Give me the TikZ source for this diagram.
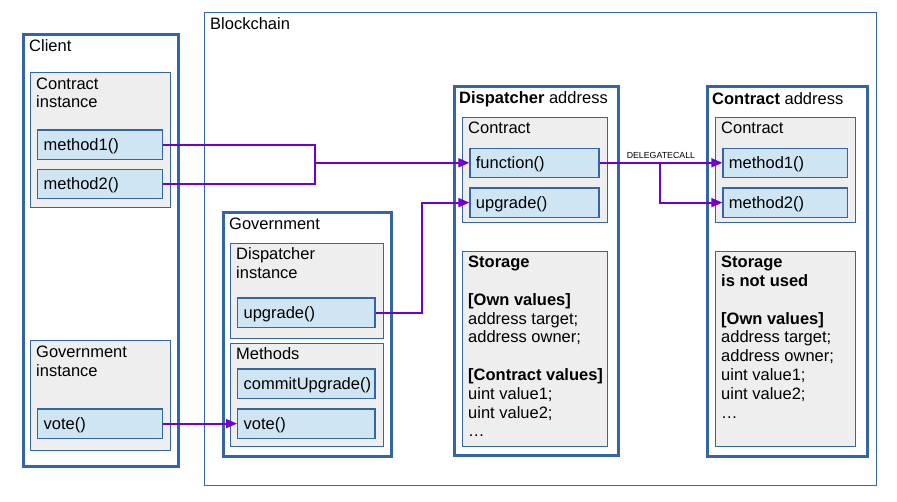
\documentclass[tikz,border=0pt]{standalone}
\usepackage{fontspec}
\setmainfont{Liberation Sans}
\usetikzlibrary{arrows.meta}
\definecolor{frame}{HTML}{3465A4}
\definecolor{panel}{HTML}{EEEEEE}
\definecolor{slot}{HTML}{CFE5F3}
\definecolor{wire}{HTML}{7000D0}

% a container drawn as a named node from its corners
\newcommand\boxnode[6]{\node[#2, anchor=north west, inner sep=0pt,
  minimum width={#5-#3}, minimum height={#6-#4}] (#1) at (#3,#4) {};}
% a method slot with left-aligned, vertically centred text
\newcommand\slotnode[7]{\node[slotbox, minimum width={#5-#3}, minimum height={#6-#4},
  text width={#7}] (#1) at (#3,#4) {#2};}

\begin{document}
\begin{tikzpicture}[x=1pt,y=-1pt,
  txt/.style={font=\fontsize{16.5}{18.8}\selectfont},
  outerbox/.style={draw=frame, line width=3pt},
  chainbox/.style={draw=frame, line width=1pt},
  groupbox/.style={draw=frame, fill=panel, line width=1.2pt},
  slotbox/.style={txt, draw=frame, fill=slot, line width=1.2pt, anchor=north west,
    inner xsep=6pt, inner ysep=0pt, text height=11.9pt, text depth=0pt, align=left},
  lbl/.style={txt, anchor=north west, inner sep=0pt, align=left},
  wire/.style={draw=wire, line width=1.8pt},
  arr/.style={wire, -{Triangle[length=11pt,width=9pt]}}]

\useasboundingbox (0,0) rectangle (897,501);

% ---- blockchain area
\boxnode{chain}{chainbox}{203.5}{11.5}{875.5}{484.5}
\node[lbl] (chainlbl) at (210,17.2) {Blockchain};

% ---- client
\boxnode{client}{outerbox}{22}{33}{177}{465}
\node[lbl] (clientlbl) at (29,39) {Client};

\boxnode{cinst}{groupbox}{29.5}{71.5}{169.5}{206.5}
\node[lbl] (cinstlbl) at (36,77.3) {Contract\\instance};
\slotnode{cm1}{method1()}{37}{129.3}{161.7}{158.7}{112.7pt}
\slotnode{cm2}{method2()}{37}{168.7}{161.7}{197.7}{112.7pt}

\boxnode{ginst}{groupbox}{29.5}{339.5}{169.5}{449.5}
\node[lbl] (ginstlbl) at (36,345.6) {Government\\instance};
\slotnode{cvote}{vote()}{37}{408.3}{161.7}{437.7}{112.7pt}

% ---- government
\boxnode{gov}{outerbox}{222}{211}{389.5}{455}
\node[lbl] (govlbl) at (229,217.6) {Government};

\boxnode{dinst}{groupbox}{229.5}{242.5}{382.5}{337.5}
\node[lbl] (dinstlbl) at (236,247.3) {Dispatcher\\instance};
\slotnode{gup}{upgrade()}{237}{297.3}{374.3}{326.7}{125.3pt}

\boxnode{meth}{groupbox}{229.5}{342.7}{382.5}{445.7}
\node[lbl] (methlbl) at (236,347.3) {Methods};
\slotnode{commit}{commitUpgrade()}{237}{368.3}{374.3}{397.7}{125.3pt}
\slotnode{gvote}{vote()}{237}{408.3}{374.3}{437.7}{125.3pt}

% ---- dispatcher address
\boxnode{disp}{outerbox}{452.5}{85}{616.5}{454}
\node[lbl] (displbl) at (459,91.3) {\textbf{Dispatcher} address};

\boxnode{dcon}{groupbox}{461.5}{116.5}{606.5}{221.5}
\node[lbl] (dconlbl) at (468,122) {Contract};
\slotnode{fn}{function()}{469.3}{147.7}{598.3}{176.7}{117pt}
\slotnode{dup}{upgrade()}{469.3}{187.3}{598.3}{216.7}{117pt}

\boxnode{dstore}{groupbox}{461.5}{250.5}{606.5}{445.5}
\node[lbl] (dstorelbl) at (468,256) {\textbf{Storage}\\[18.8pt]
  \textbf{[Own values]}\\address target;\\address owner;\\[18.8pt]
  \textbf{[Contract values]}\\uint value1;\\uint value2;\\\dots};

% ---- contract address
\boxnode{cadr}{outerbox}{705.5}{85}{865.5}{454.5}
\node[lbl] (cadrlbl) at (712,92) {\textbf{Contract} address};

\boxnode{ccon}{groupbox}{714.5}{116.5}{854.5}{221.5}
\node[lbl] (cconlbl) at (721,122) {Contract};
\slotnode{tm1}{method1()}{722.3}{147.7}{846.7}{176.7}{112.4pt}
\slotnode{tm2}{method2()}{722.3}{187.3}{846.7}{216.7}{112.4pt}

\boxnode{cstore}{groupbox}{714.5}{250.5}{854.5}{445.5}
\node[lbl] (cstorelbl) at (721,256) {\textbf{Storage}\\\textbf{is not used}\\[18.8pt]
  \textbf{[Own values]}\\address target;\\address owner;\\uint value1;\\uint value2;\\\dots};

% ---- calls
\coordinate (j1) at (315,0);
\coordinate (j2) at (422.3,0);
\coordinate (j3) at (660,0);

\draw[wire] (cm1.east) -| (j1 |- fn.west);
\draw[wire] (cm2.east) -| (j1 |- fn.west);
\draw[arr] (j1 |- fn.west) -- (fn.west);

\draw[arr] (fn.east) -- node[midway, anchor=base, inner sep=0pt, yshift=4pt,
  font=\fontsize{8.8}{10}\selectfont] (dcall) {DELEGATECALL} (tm1.west);
\draw[arr] (j3 |- fn.east) |- (tm2.west);

\draw[arr] (gup.east) -| (j2 |- dup.west) -- (dup.west);
\draw[arr] (cvote.east) -- (gvote.west);
\end{tikzpicture}
\end{document}
